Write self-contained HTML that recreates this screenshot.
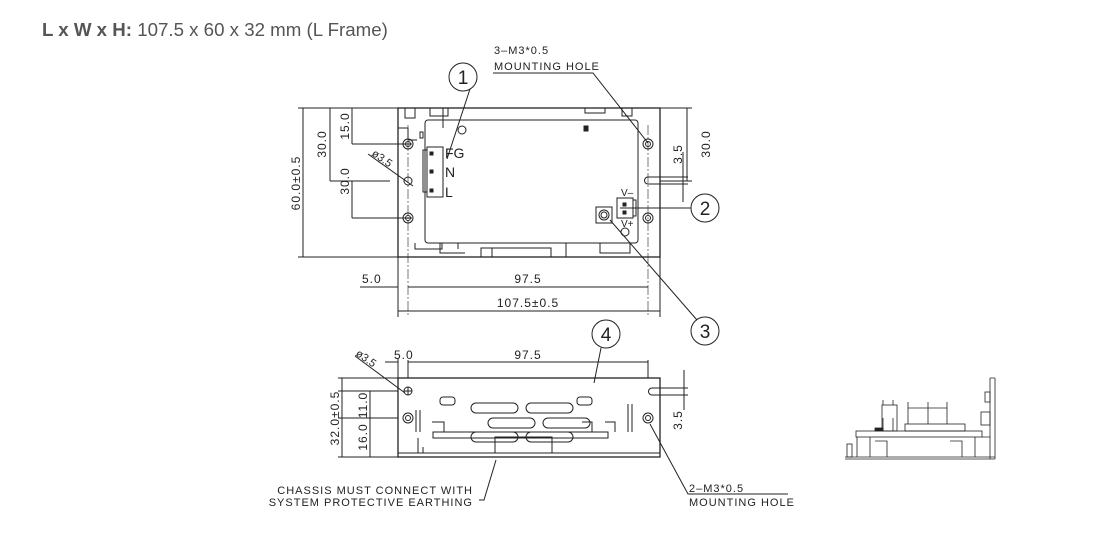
<!DOCTYPE html>
<html><head><style>
html,body{margin:0;padding:0;background:#fff;}
body{width:1109px;height:537px;overflow:hidden;position:relative;}
.t{position:absolute;left:42px;top:19px;font-family:"Liberation Sans",sans-serif;font-size:18.7px;color:#555;}
svg{position:absolute;left:0;top:0;}
text{font-family:"Liberation Sans",sans-serif;fill:#222;}
.s{letter-spacing:1px;}
</style></head><body>
<div class="t"><b>L x W x H:</b> 107.5 x 60 x 32 mm (L Frame)</div>
<svg width="1109" height="537" viewBox="0 0 1109 537" fill="none" stroke="#222" stroke-width="1">
<!-- TOP VIEW -->
<rect x="398" y="108" width="262" height="149" stroke-width="1.3"/>
<rect x="425" y="120" width="213" height="123" rx="3"/>
<path d="M405 108v10h10v-10M430 108v8h18v-8M443 108v20M398 128h10v12h9M585 108v5h20v-5M622 108v8h10v-8"/>
<path d="M460 120h40M510 120h40M555 120h33M415 243v6h27v-6M481 257v-9h70v9M566 243v14"/>
<path d="M492 257v-9M458 243v6M440 243v10h25M600 243v10h30v-10"/>
<circle cx="462" cy="130" r="4"/>
<rect x="584" y="126" width="4" height="5" fill="#222"/>
<rect x="420" y="132" width="3" height="6" />
<g>
<circle cx="408" cy="144" r="5"/><circle cx="408" cy="144" r="2.5"/>
<circle cx="408" cy="218" r="5"/><circle cx="408" cy="218" r="2.5"/>
<circle cx="408" cy="181" r="4"/>
<circle cx="648" cy="144" r="5"/><circle cx="648" cy="144" r="2.5"/>
<circle cx="648" cy="218" r="5"/><circle cx="648" cy="218" r="2.5"/>
<path d="M660 177h-12a3.5 3.5 0 0 0 0 7h12"/>
</g>
<rect x="427" y="147" width="16" height="50"/>
<rect x="423" y="150" width="4" height="42"/>
<rect x="430" y="152" width="3" height="3" fill="#222"/><rect x="430" y="170" width="3" height="3" fill="#222"/><rect x="430" y="189" width="3" height="3" fill="#222"/>
<text x="445" y="158" font-size="14" stroke="none">FG</text>
<text x="445" y="177" font-size="14" stroke="none">N</text>
<text x="445" y="197" font-size="14" stroke="none">L</text>
<rect x="617" y="198" width="16" height="20"/><rect x="633" y="200" width="3" height="16"/>
<rect x="623" y="203" width="3" height="3" fill="#222"/><rect x="623" y="211" width="3" height="3" fill="#222"/>
<text x="621" y="196" font-size="10" stroke="none">V–</text>
<text x="621" y="227" font-size="10" stroke="none">V+</text>
<rect x="596" y="207" width="16" height="16"/><circle cx="604" cy="215" r="5"/><circle cx="604" cy="215" r="3"/>
<circle cx="625" cy="232" r="4"/>
<path d="M408 125v190M648 125v190" stroke-dasharray="10 2 2 2" stroke-width="0.6"/>
<path d="M398 108h-100M398 257h-100M303 108v149"/>
<path d="M330 108v73M330 181h60M352 108v36M352 144h60M352 181v37M352 218h60M372 181h15"/>
<text transform="translate(300,183) rotate(-90)" font-size="12" text-anchor="middle" stroke="none" class="s">60.0±0.5</text>
<text transform="translate(326,144) rotate(-90)" font-size="12" text-anchor="middle" stroke="none" class="s">30.0</text>
<text transform="translate(349,126) rotate(-90)" font-size="12" text-anchor="middle" stroke="none" class="s">15.0</text>
<text transform="translate(349,181) rotate(-90)" font-size="12" text-anchor="middle" stroke="none" class="s">30.0</text>
<path d="M368 154l45 32"/>
<text transform="translate(371,155) rotate(35)" font-size="11" stroke="none">ø3.5</text>
<path d="M660 108h32M660 181h32M687 108v73M660 177h28M660 184h28M683 152v50"/>
<text transform="translate(710,144) rotate(-90)" font-size="12" text-anchor="middle" stroke="none" class="s">30.0</text>
<text transform="translate(682,154) rotate(-90)" font-size="12" text-anchor="middle" stroke="none" class="s">3.5</text>
<path d="M398 257v60M660 257v60M360 287h38M408 287h240M398 311h262"/>
<text x="362" y="283" font-size="12" stroke="none" class="s">5.0</text>
<text x="528" y="283" font-size="12" text-anchor="middle" stroke="none" class="s">97.5</text>
<text x="528" y="307" font-size="12" text-anchor="middle" stroke="none" class="s">107.5±0.5</text>
<circle cx="463" cy="77" r="14"/><text x="463" y="84" font-size="19" text-anchor="middle" stroke="none">1</text>
<path d="M470 89l-23 70"/>
<path d="M493 73h100l55 70"/>
<text x="494" y="54" font-size="11" stroke="none" class="s">3–M3*0.5</text>
<text x="494" y="70" font-size="11" stroke="none" class="s">MOUNTING  HOLE</text>
<circle cx="705" cy="208" r="14"/><text x="705" y="215" font-size="19" text-anchor="middle" stroke="none">2</text>
<path d="M620 208h71"/>
<circle cx="705" cy="331" r="14"/><text x="705" y="338" font-size="19" text-anchor="middle" stroke="none">3</text>
<path d="M610 220l87 100"/>
<!-- SIDE VIEW -->
<rect x="398" y="378" width="262" height="79" stroke-width="1.3"/>
<path d="M398 453h262M398 457h262"/>
<circle cx="408" cy="391" r="4"/><path d="M404 391h8M408 387v8"/>
<circle cx="408" cy="418" r="5"/><circle cx="408" cy="418" r="2.5"/>
<circle cx="648" cy="418" r="5"/><circle cx="648" cy="418" r="2.5"/>
<path d="M660 388h-8a3.5 3.5 0 0 0 0 7h8"/>
<rect x="440" y="397" width="15" height="8" rx="3"/>
<rect x="577" y="397" width="15" height="8" rx="3"/>
<rect x="471" y="403" width="47" height="10" rx="5"/><rect x="526" y="403" width="47" height="10" rx="5"/>
<rect x="488" y="418" width="47" height="10" rx="5"/><rect x="543" y="418" width="47" height="10" rx="5"/>
<rect x="471" y="432" width="47" height="10" rx="5"/><rect x="526" y="432" width="47" height="10" rx="5"/>
<path d="M433 432h175v6h-175zM418 438v15M423 447v6M495 453v-16h57v16"/>
<path d="M416 410v22M420 410v22M628 404v28M632 404v28M432 422h12v10M605 422h10v10M582 422h10v10"/>
<path d="M398 378h-60M398 457h-60M398 391h-60M398 418h-60M342 378v79M370 391v27M370 418v39"/>
<text transform="translate(339,418) rotate(-90)" font-size="12" text-anchor="middle" stroke="none" class="s">32.0±0.5</text>
<text transform="translate(367,405) rotate(-90)" font-size="12" text-anchor="middle" stroke="none" class="s">11.0</text>
<text transform="translate(367,437) rotate(-90)" font-size="12" text-anchor="middle" stroke="none" class="s">16.0</text>
<path d="M398 378v-20M408 378v-18M648 378v-18M385 362h13M408 362h240M355 356l50 37"/>
<text x="394" y="359" font-size="12" stroke="none" class="s">5.0</text>
<text x="528" y="359" font-size="12" text-anchor="middle" stroke="none" class="s">97.5</text>
<text transform="translate(355,355) rotate(35)" font-size="11" stroke="none">ø3.5</text>
<path d="M660 388h28M660 395h28M684 370v40"/>
<text transform="translate(682,420) rotate(-90)" font-size="12" text-anchor="middle" stroke="none" class="s">3.5</text>
<circle cx="606" cy="334" r="14"/><text x="606" y="341" font-size="19" text-anchor="middle" stroke="none">4</text>
<path d="M601 348l-7 35"/>
<path d="M496 460l-12 40h-5"/>
<text x="473" y="494" font-size="11" text-anchor="end" stroke="none" class="s">CHASSIS  MUST  CONNECT  WITH</text>
<text x="473" y="506" font-size="11" text-anchor="end" stroke="none" class="s">SYSTEM  PROTECTIVE  EARTHING</text>
<path d="M650 424l38 70h100"/>
<text x="689" y="492" font-size="11" stroke="none" class="s">2–M3*0.5</text>
<text x="689" y="506" font-size="11" stroke="none" class="s">MOUNTING  HOLE</text>
<g stroke-width="0.8">
<path d="M845 457h150M845 459h150M990 378v81M995 378v81M990 378h5"/>
<rect x="856" y="431" width="126" height="6"/>
<path d="M857 437v20M875 441h12v16M870 437v20M950 441h12v16M975 437v20M982 437h8"/>
<rect x="882" y="405" width="15" height="26"/><path d="M883 405v-5M893 405v-5M883 418v13M893 418v13"/>
<rect x="905" y="424" width="60" height="7"/>
<path d="M908 424v-22M928 424v-22M947 424v-22M908 408h39"/>
<rect x="981" y="412" width="9" height="13"/><rect x="985" y="392" width="5" height="10"/>
<rect x="847" y="444" width="5" height="13"/>
<rect x="875" y="428" width="8" height="3" fill="#222"/>
</g>
</svg>
</body></html>
